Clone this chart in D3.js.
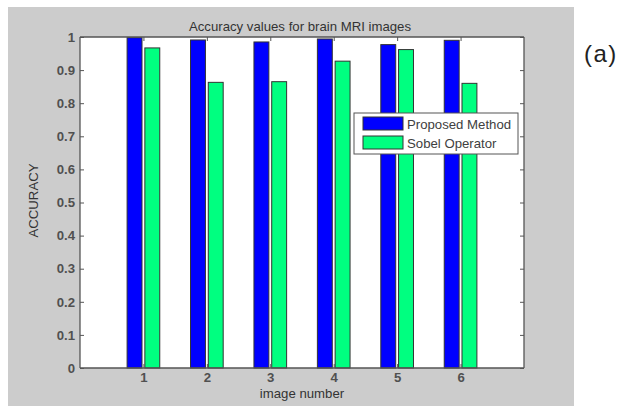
<!DOCTYPE html>
<html>
<head>
<meta charset="utf-8">
<script src="https://cdn.jsdelivr.net/npm/d3@7"></script>
<style>
  html, body { margin: 0; padding: 0; background: #ffffff; }
  svg { display: block; }
  text { font-family: "Liberation Sans", Arial, sans-serif; }
</style>
</head>
<body>
<svg id="chart" width="630" height="406"></svg>
<script>
const categories = [1, 2, 3, 4, 5, 6];
const proposed = [0.998, 0.991, 0.985, 0.994, 0.977, 0.990];
const sobel = [0.967, 0.863, 0.865, 0.927, 0.962, 0.860];
const seriesNames = ["Proposed Method", "Sobel Operator"];
const seriesColors = ["#0000ff", "#00ff80"];
const yTicks = [0, 0.1, 0.2, 0.3, 0.4, 0.5, 0.6, 0.7, 0.8, 0.9, 1];

const svg = d3.select("#chart");
const W = 630, H = 406;
const m = { left: 80, top: 37, right: 524, bottom: 368 };
const fs = 13.2;

// figure background
svg.append("rect").attr("x", 8).attr("y", 7).attr("width", 566).attr("height", H - 7)
  .attr("fill", "#cccccc");

const x = d3.scaleLinear().domain([0, 7]).range([m.left, m.right]);
const y = d3.scaleLinear().domain([0, 1]).range([m.bottom, m.top]);

// plot area
svg.append("rect").attr("x", m.left).attr("y", m.top)
  .attr("width", m.right - m.left).attr("height", m.bottom - m.top)
  .attr("fill", "#ffffff");

const series = [proposed, sobel];
const offsets = [-0.14, 0.14];
const bw = 0.235;
series.forEach((vals, si) => {
  svg.append("g").selectAll("rect").data(categories).join("rect")
    .attr("x", (c, i) => x(c + offsets[si] - bw / 2))
    .attr("y", (c, i) => y(vals[i]))
    .attr("width", x(bw) - x(0))
    .attr("height", (c, i) => y(0) - y(vals[i]))
    .attr("fill", seriesColors[si])
    .attr("stroke", "#333")
    .attr("stroke-width", 1);
});

// axes (MATLAB style, ticks inside)
const tickLen = 4;
const axColor = "#555";
const gL = svg.append("g").attr("transform", `translate(${m.left},0)`)
  .call(d3.axisLeft(y).tickValues(yTicks).tickSize(-tickLen).tickPadding(5)
    .tickFormat(d => d === 0 ? "0" : d === 1 ? "1" : d3.format(".1f")(d)));
const gR = svg.append("g").attr("transform", `translate(${m.right},0)`)
  .call(d3.axisRight(y).tickValues(yTicks).tickSize(-tickLen).tickFormat(""));
const gB = svg.append("g").attr("transform", `translate(0,${m.bottom})`)
  .call(d3.axisBottom(x).tickValues(categories).tickSize(-tickLen).tickPadding(5)
    .tickFormat(d3.format("d")));
const gT = svg.append("g").attr("transform", `translate(0,${m.top})`)
  .call(d3.axisTop(x).tickValues(categories).tickSize(-tickLen).tickFormat(""));

[gL, gR, gB, gT].forEach(g => {
  g.select(".domain").attr("stroke", axColor).attr("stroke-width", 1.3);
  g.selectAll(".tick line").attr("stroke", axColor);
  g.selectAll(".tick text").attr("fill", "#505050").attr("font-size", fs)
    .attr("font-family", "Liberation Sans, Arial, sans-serif");
});
gL.select(".domain").attr("d", `M0,${m.bottom}V${m.top}`);
gR.select(".domain").attr("d", `M0,${m.bottom}V${m.top}`);
gB.select(".domain").attr("d", `M${m.left},0H${m.right}`);
gT.select(".domain").attr("d", `M${m.left},0H${m.right}`);
gL.selectAll(".tick text").attr("font-weight", "bold");
gB.selectAll(".tick text").attr("font-weight", "bold");

// title and labels
svg.append("text").attr("x", (m.left + m.right) / 2 - 2).attr("y", 31)
  .attr("text-anchor", "middle").attr("font-size", fs).attr("fill", "#333")
  .text("Accuracy values for brain MRI images");
svg.append("text").attr("x", (m.left + m.right) / 2).attr("y", 398)
  .attr("text-anchor", "middle").attr("font-size", fs).attr("fill", "#333")
  .text("image number");
svg.append("text").attr("transform", `translate(38,${(m.top + m.bottom) / 2 - 2}) rotate(-90)`)
  .attr("text-anchor", "middle").attr("font-size", fs).attr("fill", "#333")
  .text("ACCURACY");

// legend
const lg = svg.append("g");
lg.append("rect").attr("x", 354).attr("y", 113).attr("width", 164).attr("height", 41)
  .attr("fill", "#ffffff").attr("stroke", "#555").attr("stroke-width", 1);
seriesNames.forEach((n, i) => {
  lg.append("rect").attr("x", 363).attr("y", 117 + i * 19).attr("width", 40).attr("height", 13)
    .attr("fill", seriesColors[i]).attr("stroke", "#333");
  lg.append("text").attr("x", 407).attr("y", 129 + i * 18.5).attr("font-size", fs)
    .attr("fill", "#404040").text(n);
});

// panel label
svg.append("text").attr("x", 584).attr("y", 62).attr("font-size", 24)
  .attr("letter-spacing", 1.5)
  .attr("font-family", "Noto Sans, Open Sans, sans-serif").attr("fill", "#222").text("(a)");
</script>
</body>
</html>
